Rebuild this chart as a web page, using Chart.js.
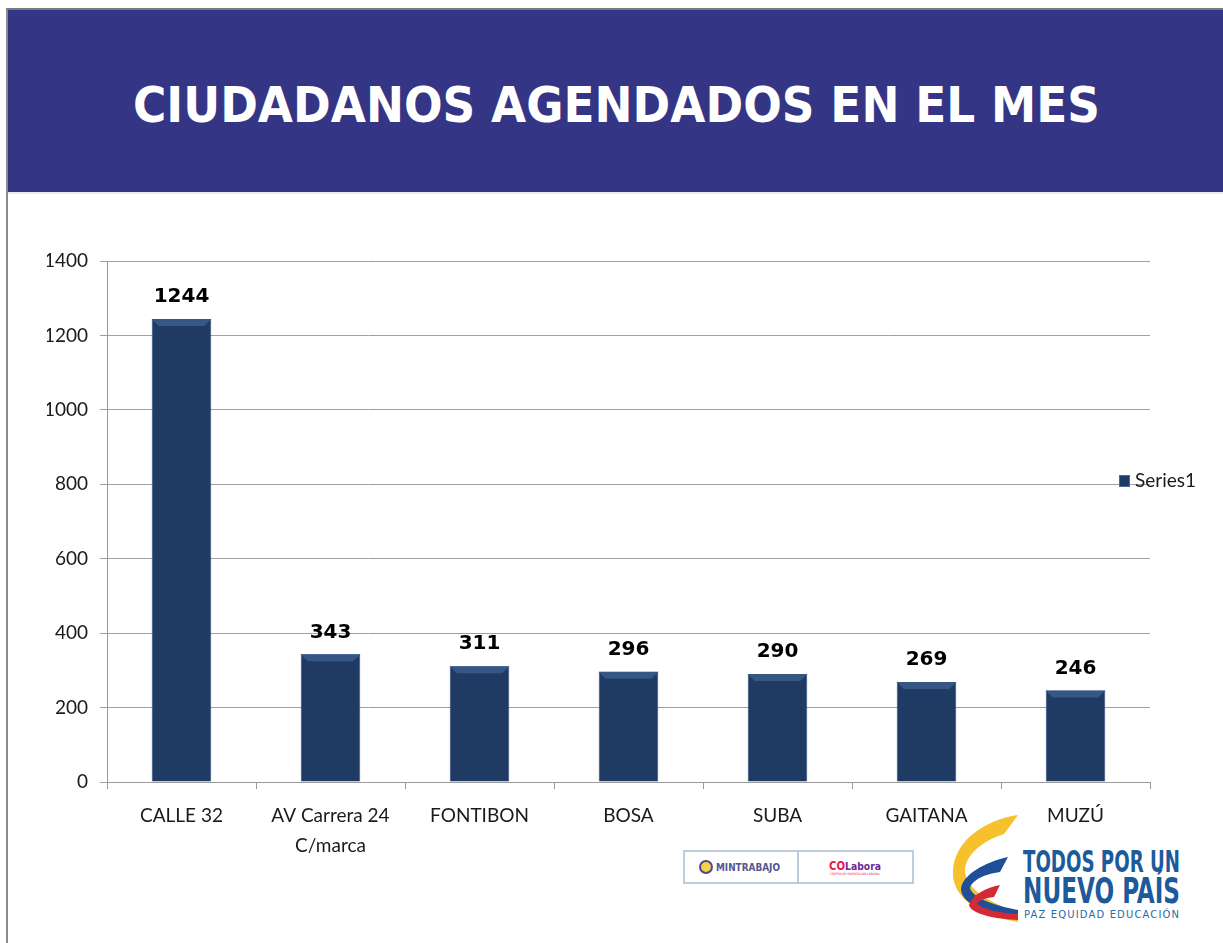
<!DOCTYPE html>
<html>
<head>
<meta charset="utf-8">
<script src="https://cdn.jsdelivr.net/npm/chart.js@4.4.1/dist/chart.umd.min.js"></script>
<style>
  html, body { margin: 0; padding: 0; background: #ffffff; }
  #page { position: relative; width: 1223px; height: 943px; overflow: hidden; background: #fff; }
  #leftBorder { position: absolute; left: 6px; top: 9px; width: 2px; height: 934px; background: #8a8a8a; }
  #topBorder { position: absolute; left: 6px; top: 8px; width: 1217px; height: 2px; background: #7a7a7a; }
  #banner { position: absolute; left: 8px; top: 10px; width: 1215px; height: 182px; background: #343585; }
  #bannerEdge { position: absolute; left: 8px; top: 192px; width: 1215px; height: 2px; background: #efe6ee; }
  #overlay { position: absolute; left: 0; top: 0; }
  #chart { position: absolute; left: 0; top: 0; }
</style>
</head>
<body>
<div id="page">
  <div id="banner"></div>
  <div id="bannerEdge"></div>
  <div id="topBorder"></div>
  <div id="leftBorder"></div>
  <svg id="overlay" width="1223" height="943" xmlns="http://www.w3.org/2000/svg">
    <text x="133" y="122" font-family="DejaVu Sans" font-weight="bold" font-size="50" fill="#ffffff"
          textLength="967" lengthAdjust="spacingAndGlyphs">CIUDADANOS AGENDADOS EN EL MES</text>

    <!-- MINTRABAJO / COLabora box -->
    <rect x="684" y="851" width="229" height="32" fill="#ffffff" stroke="#a9bcd3" stroke-width="1.5"/>
    <line x1="798" y1="851" x2="798" y2="883" stroke="#a9bcd3" stroke-width="1.5"/>
    <circle cx="706" cy="867" r="6" fill="#f2d24a" stroke="#4b4a8c" stroke-width="2"/>
    <text x="716" y="871" font-family="DejaVu Sans Condensed" font-weight="bold" font-size="10" fill="#56558f"
          textLength="64" lengthAdjust="spacingAndGlyphs">MINTRABAJO</text>
    <text x="829" y="870" font-family="DejaVu Sans" font-weight="bold" font-size="12" fill="#e8194a"
          textLength="16" lengthAdjust="spacingAndGlyphs">CO</text>
    <text x="845" y="870" font-family="DejaVu Sans" font-weight="bold" font-size="10" fill="#6a2c91"
          textLength="36" lengthAdjust="spacingAndGlyphs">Labora</text>
    <text x="830" y="875" font-family="DejaVu Sans" font-size="3" fill="#e8194a"
          textLength="50" lengthAdjust="spacingAndGlyphs">CENTRO DE ORIENTACIÓN LABORAL</text>

    <!-- Todos por un nuevo país -->
    <path d="M1018,815 L1004,834 C985,840 968,852 965,868 C963,885 985,902 1018,912 L1018,922 C975,915 951,895 953,870 C955,840 985,820 1018,815 Z" fill="#f6c12c"/>
    <path d="M1008,857 L1000,872 C985,874 972,880 970,888 C972,897 992,905 1018,910 L1018,918 C985,914 961,903 961,889 C962,875 985,862 1008,857 Z" fill="#1e4f97"/>
    <path d="M1000,885 L994,897 C985,898 978,901 977,904 C985,910 1000,913 1018,914 L1018,920 C995,919 971,914 969,905 C972,895 985,888 1000,885 Z" fill="#d42a36"/>
    <text x="1023" y="872" font-family="DejaVu Sans Condensed" font-weight="bold" font-size="30" fill="#1c5a9c"
          textLength="157" lengthAdjust="spacingAndGlyphs">TODOS POR UN</text>
    <text x="1023" y="903" font-family="DejaVu Sans Condensed" font-weight="bold" font-size="35" fill="#1c5a9c"
          textLength="157" lengthAdjust="spacingAndGlyphs">NUEVO PAÍS</text>
    <text x="1024" y="918" font-family="DejaVu Sans" font-size="10" fill="#2a6aa8"
          textLength="155" lengthAdjust="spacing">PAZ EQUIDAD EDUCACIÓN</text>
  </svg>
  <canvas id="chart" width="1223" height="943"></canvas>
</div>
<script>
// ---- data ----
const categories = ['CALLE 32', ['AV Carrera 24', 'C/marca'], 'FONTIBON', 'BOSA', 'SUBA', 'GAITANA', 'MUZÚ'];
const values = [1244, 343, 311, 296, 290, 269, 246];
const seriesName = 'Series1';
const yMin = 0;
const yMax = 1400;
const yStep = 200;

const barColor = '#1f3b63';
const tickFont = { family: 'Lato', size: 19 };

const valueLabels = {
  id: 'valueLabels',
  afterDatasetsDraw(chart) {
    const ctx = chart.ctx;
    const meta = chart.getDatasetMeta(0);
    ctx.save();
    meta.data.forEach((bar, i) => {
      // bevel highlight on top of each bar
      const half = bar.width / 2;
      const x0 = bar.x - half, x1 = bar.x + half, top = bar.y;
      ctx.fillStyle = '#365784';
      ctx.beginPath();
      ctx.moveTo(x0, top);
      ctx.lineTo(x1, top);
      ctx.lineTo(x1 - 7, top + 7);
      ctx.lineTo(x0 + 7, top + 7);
      ctx.closePath();
      ctx.fill();
      // value label
      ctx.fillStyle = '#000000';
      ctx.font = 'bold 20px "DejaVu Sans"';
      ctx.textAlign = 'center';
      ctx.textBaseline = 'middle';
      ctx.fillText(String(chart.data.datasets[0].data[i]), bar.x, bar.y - 22);
    });
    ctx.restore();
  }
};

const sideLegend = {
  id: 'sideLegend',
  afterDraw(chart) {
    const ctx = chart.ctx;
    const ds = chart.data.datasets[0];
    ctx.save();
    ctx.fillStyle = ds.backgroundColor;
    ctx.fillRect(1119, 475, 11, 12);
    ctx.strokeStyle = '#4a6a98';
    ctx.lineWidth = 1;
    ctx.strokeRect(1119.5, 475.5, 10, 11);
    ctx.fillStyle = '#1a1a1a';
    ctx.font = '19px Lato';
    ctx.textAlign = 'left';
    ctx.textBaseline = 'middle';
    ctx.fillText(ds.label, 1135, 481);
    ctx.restore();
  }
};

new Chart(document.getElementById('chart'), {
  type: 'bar',
  data: {
    labels: categories,
    datasets: [{
      label: seriesName,
      data: values,
      backgroundColor: barColor,
      borderColor: '#2a4a78',
      borderWidth: 1,
      categoryPercentage: 1.0,
      barPercentage: 0.4
    }]
  },
  options: {
    responsive: false,
    animation: false,
    devicePixelRatio: 1,
    layout: { padding: { left: 47, right: 73, top: 261, bottom: 81 } },
    plugins: {
      legend: { display: false },
      tooltip: { enabled: false },
      title: { display: false }
    },
    scales: {
      x: {
        offset: true,
        grid: {
          offset: true,
          drawOnChartArea: false,
          drawTicks: true,
          tickLength: 7,
          color: '#9a9a9a'
        },
        border: { color: '#9a9a9a', width: 1 },
        ticks: {
          font: { family: 'Lato', size: 19, lineHeight: 1.58 },
          color: '#1a1a1a',
          padding: 12,
          maxRotation: 0,
          autoSkip: false
        },
        afterFit(scale) { scale.height = 80; }
      },
      y: {
        min: yMin,
        max: yMax,
        grid: {
          color: '#a0a0a0',
          tickLength: 7,
          drawTicks: true
        },
        border: { color: '#9a9a9a', width: 1 },
        ticks: {
          stepSize: yStep,
          font: tickFont,
          color: '#1a1a1a',
          padding: 12,
          callback: (v) => String(v)
        },
        afterFit(scale) { scale.width = 60; }
      }
    }
  },
  plugins: [valueLabels, sideLegend]
});
</script>
</body>
</html>
